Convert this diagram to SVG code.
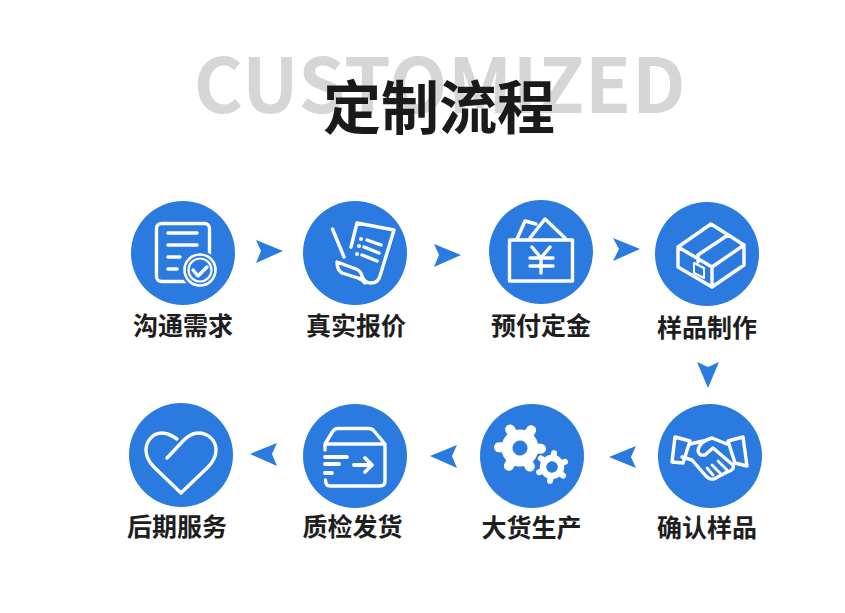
<svg xmlns="http://www.w3.org/2000/svg" width="845" height="613" viewBox="0 0 845 613">
<style>
.disc{fill:#2a7ae0}
.ic{fill:none;stroke:#fff;stroke-width:3.4;stroke-linecap:round;stroke-linejoin:round}
.label{font-family:"Noto Sans CJK SC","Noto Sans",sans-serif;font-weight:700;font-size:25px;fill:#1e1e1e;text-anchor:middle}
.arrow{fill:#2a7ae0}
.tooth{stroke:#fff;stroke-linecap:round}
</style>
<defs>
<g id="gear-big">
<circle r="13" fill="none" stroke="#fff" stroke-width="11"/>
<g class="tooth" stroke-width="10"><path id="tb" d="M0,-15V-21"/><use href="#tb" transform="rotate(60)"/><use href="#tb" transform="rotate(120)"/><use href="#tb" transform="rotate(180)"/><use href="#tb" transform="rotate(240)"/><use href="#tb" transform="rotate(300)"/></g>
</g>
<g id="gear-small">
<circle r="9" fill="none" stroke="#fff" stroke-width="6.5"/>
<g class="tooth" stroke-width="6"><path id="ts" d="M0,-10V-14"/><use href="#ts" transform="rotate(60)"/><use href="#ts" transform="rotate(120)"/><use href="#ts" transform="rotate(180)"/><use href="#ts" transform="rotate(240)"/><use href="#ts" transform="rotate(300)"/></g>
</g>
</defs>
<rect width="845" height="613" fill="#fff"/>
<g id="title">
<text x="440" y="113" text-anchor="middle" font-family="'Noto Sans CJK SC','Noto Sans',sans-serif" font-weight="700" font-size="75" letter-spacing="0.8" fill="#d6d6d6">CUSTOMIZED</text>
<text x="439" y="129" text-anchor="middle" font-family="'Noto Sans CJK SC','Noto Sans',sans-serif" font-weight="700" font-size="58" fill="#1a1a1a">定制流程</text>
</g>
<g id="connectors">
<path class="arrow" d="M256,240L283,251L256,263L261,251Z"/>
<path class="arrow" d="M434,244L461,255L434,267L439,255Z"/>
<path class="arrow" d="M613,238L640,249L613,261L619,249Z"/>
<path class="arrow" d="M697,362L708,388L719,362L708,367Z"/>
<path class="arrow" d="M609,457L636,446L631,457L636,468Z"/>
<path class="arrow" d="M430,456L457,445L452,456L457,468Z"/>
<path class="arrow" d="M250,454L277,443L272,454L277,466Z"/>
</g>
<g id="node-1">
<circle class="disc" cx="183" cy="253" r="52"/>
<rect class="ic" x="156.500" y="223.500" width="53" height="58" rx="5"/>
<path class="ic" d="M168,233H197M168,245H197M168,257H180M168,269H177"/>
<circle cx="200" cy="270" r="19" class="disc"/>
<circle class="ic" cx="200" cy="270" r="15.500" style="stroke-width:2.600"/>
<circle class="ic" cx="200" cy="270" r="11.500" style="stroke-width:2.200"/>
<path class="ic" d="M193,270L198,276L207,267"/>
<text class="label" x="183" y="335">沟通需求</text>
</g>
<g id="node-2">
<circle class="disc" cx="355" cy="253" r="52"/>
<path class="ic" d="M351,247L357,223L394,230L380,276Q378,283 371,283Q364,283 362,276Q361,271 356,269L337,262Q337,270 342,273L358,278Q362,279 365,283"/>
<path class="ic" d="M332.500,229L344,257"/>
<path class="ic" d="M367,240L381,245M364,247L379,253M362,255L377,261"/>
<circle cx="361" cy="239" r="2" fill="#fff"/><circle cx="359" cy="246" r="2" fill="#fff"/><circle cx="357" cy="254" r="2" fill="#fff"/>
<text class="label" x="356" y="335">真实报价</text>
</g>
<g id="node-3">
<circle class="disc" cx="541" cy="252" r="52"/>
<rect class="ic" x="509.500" y="240" width="63" height="41"/>
<path class="ic" d="M517,239L525,221L536,224M530,238L545,219L565,238"/>
<path class="ic" d="M532,247L541,258L550,247M530,258H553M530,266H553M541,258V273"/>
<text class="label" x="541" y="335">预付定金</text>
</g>
<g id="node-4">
<circle class="disc" cx="707" cy="254" r="52"/>
<path class="ic" d="M711,224L744,245L712,267L678,247ZM744,245V265L712,287L678,267V247M712,267V287M728,235L698,255V262"/>
<path class="ic" d="M694,263L704,268V278L694,273Z" style="stroke-width:2"/>
<text class="label" x="707" y="337">样品制作</text>
</g>
<g id="node-5">
<circle class="disc" cx="710" cy="456" r="52"/>
<path class="ic" d="M675,437L690,441L683,463L672,462ZM728,441L743,437L747,466L735,463Z"/>
<path class="ic" d="M690,444L703,441L712,438L727,444M712,438Q700,441 698,450Q698,456 705,455L713,448L733,465Q735,470 727,472L714,479Q709,480 705,475L692,460L682,457"/>
<path class="ic" d="M707,468L713,475M712,465L720,473M718,461L727,470" style="stroke-width:2.800"/>
<text class="label" x="707" y="537">确认样品</text>
</g>
<g id="node-6">
<circle class="disc" cx="532" cy="456" r="52"/>
<use href="#gear-big" transform="translate(520,448) rotate(-28)"/>
<use href="#gear-small" transform="translate(552,467) rotate(8)"/>
<text class="label" x="531.500" y="536.500">大货生产</text>
</g>
<g id="node-7">
<circle class="disc" cx="355" cy="456" r="52"/>
<path class="ic" d="M325,450V444L333,431Q335,428.500 338,428.500H369Q372,428.500 374,431L385,444V481Q385,486 380,486H330Q325.500,486 325.500,480M325,444H385"/>
<path class="ic" d="M325,457H347M325,464H339M325,473H332M354,465H371M365,458L372,465L365,472" style="stroke-width:3.800"/>
<text class="label" x="352.500" y="536">质检发货</text>
</g>
<g id="node-8">
<circle class="disc" cx="181" cy="455" r="52"/>
<path class="ic" d="M177,439C170,434 166,433 162,433C152,433 146,442 146,450C146,458 150,463 154,467L181,493L208,467C212,463 216,458 216,450C216,441 209,433 198,433C192,433 188,436 184,440L167,458"/>
<text class="label" x="177" y="536">后期服务</text>
</g>
</svg>
